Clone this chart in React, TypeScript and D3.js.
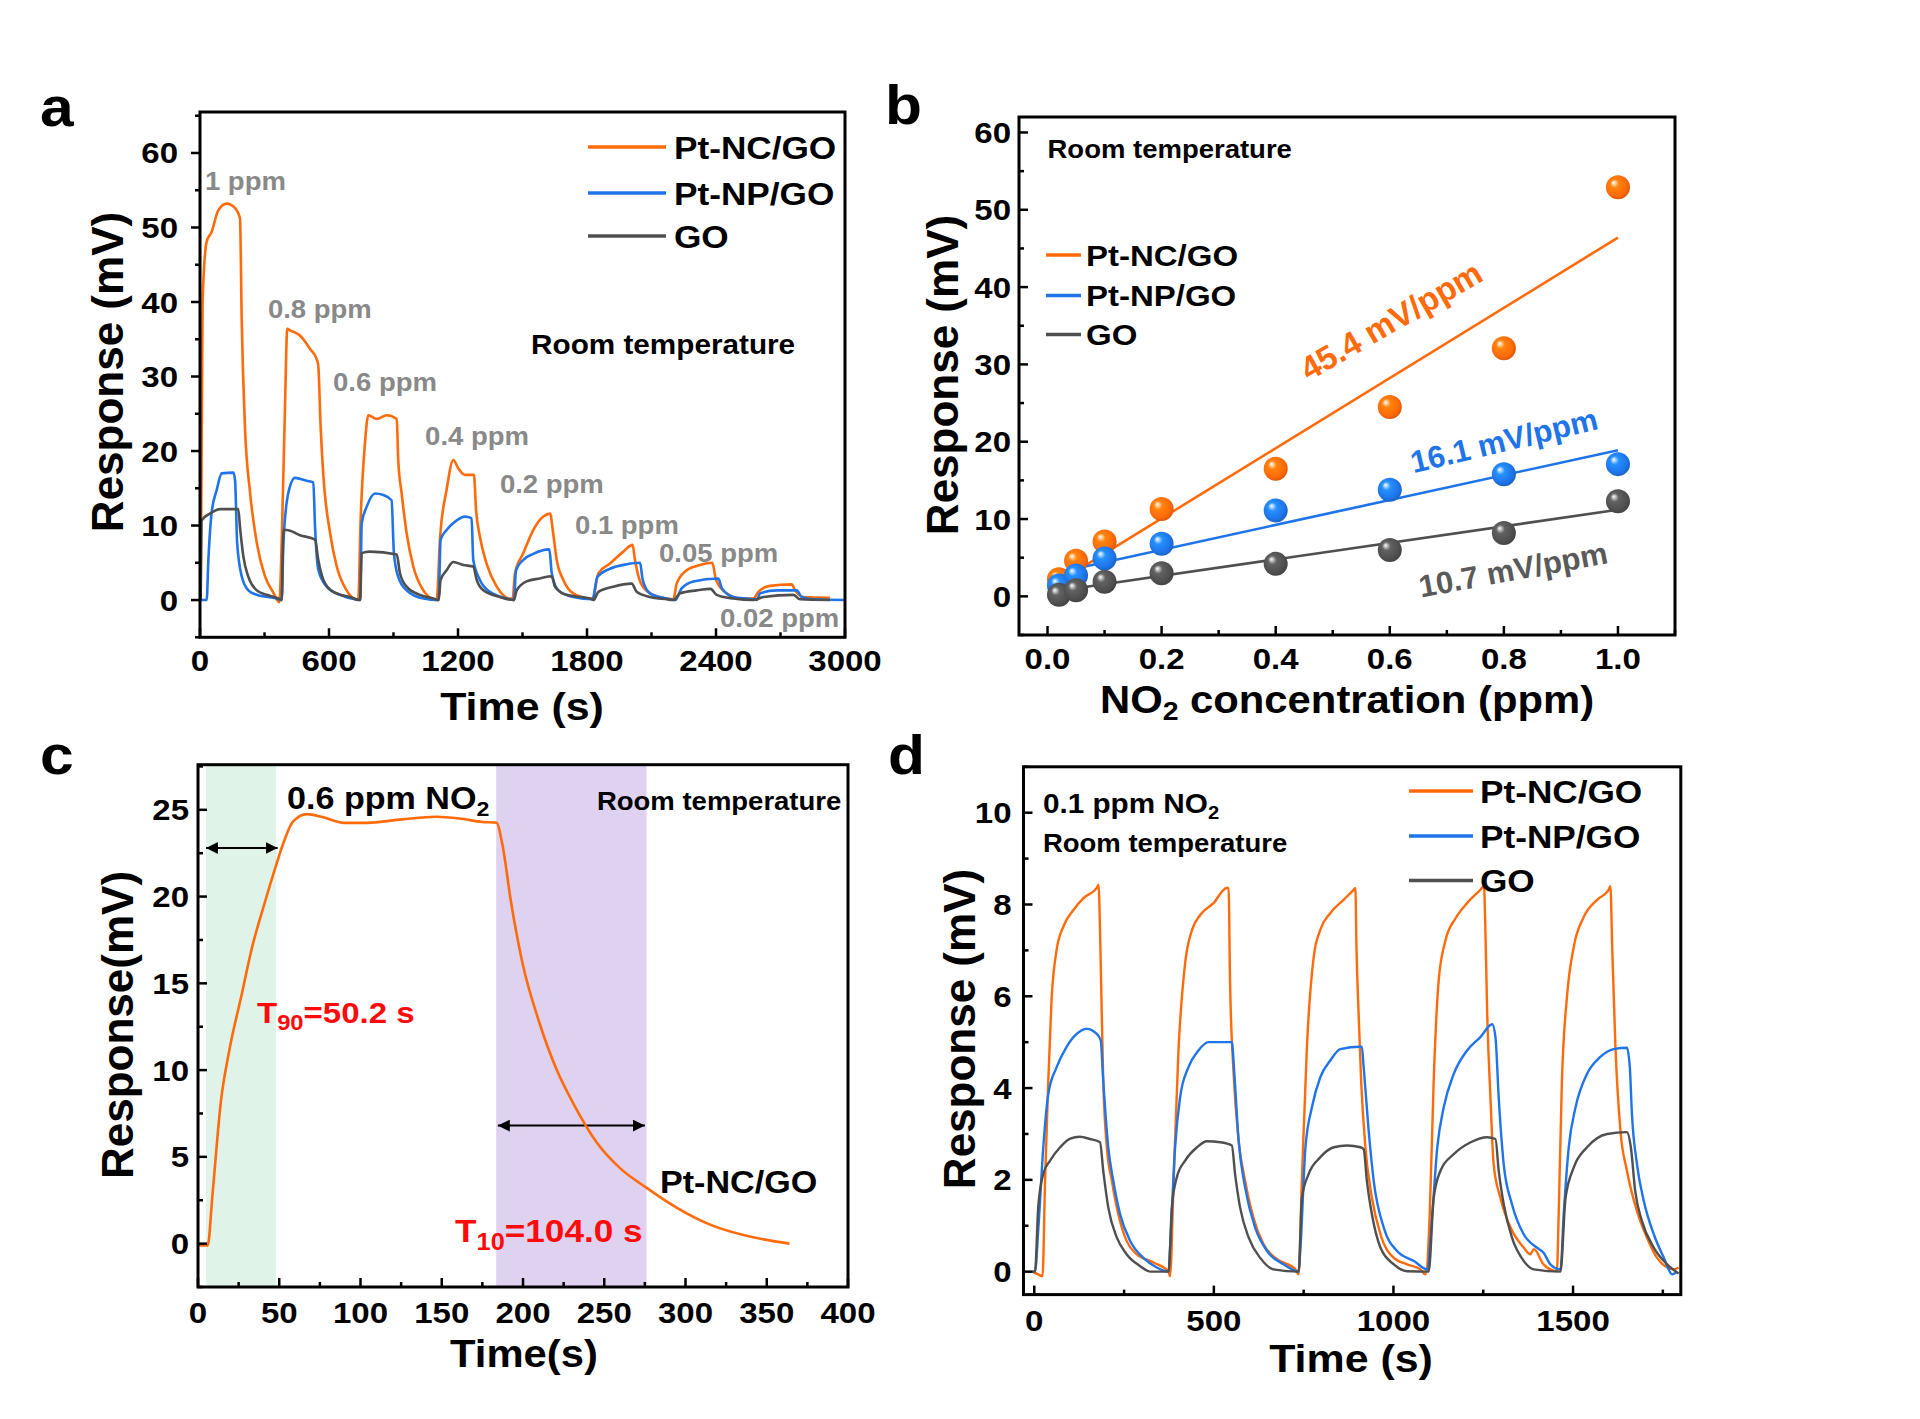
import React from "react";
import * as d3 from "d3";

type Pt = [number, number];

const FONT = "'Liberation Sans', Arial, Helvetica, sans-serif";
const SX = 1.1; // the figure's lettering is a little wide
const ORANGE = "#ff6a0a";
const BLUE = "#1e74e8";
const GREY = "#4f4f4f";
const LABEL_GREY = "#898989";
const RED = "#ff0a0a";

// ---------- panel a : transients from 1 ppm down to 0.02 ppm
const aTimeTicks = [0, 600, 1200, 1800, 2400, 3000];
const aRespTicks = [0, 10, 20, 30, 40, 50, 60];
const aConcLabels = ["1 ppm", "0.8 ppm", "0.6 ppm", "0.4 ppm", "0.2 ppm", "0.1 ppm", "0.05 ppm", "0.02 ppm"];
const aNC: Pt[] = [
  [3, 0], [12, 40], [31, 48.1], [54, 49.4], [85, 52.3], [124, 53.2], [163, 52.6], [186, 51.2], [194, 37.6], [209, 23.3], [233, 14.4], [264, 7.7], [302, 3.2], [341, 1.0], [369, -0.3],
  [380, 7.7], [395, 25.6], [406, 36.4], [419, 36.2], [465, 35.5], [512, 33.7], [543, 32.3], [550, 31.5], [561, 23.3], [574, 16.6], [605, 9.0], [636, 4.5], [682, 1.3], [721, 0.1], [736, 0],
  [747, 10.7], [767, 21.0], [783, 24.8], [822, 24.3], [868, 24.8], [915, 24.3], [922, 18.8], [938, 14.3], [961, 9.0], [992, 4.5], [1039, 1.3], [1085, 0.1], [1101, 0],
  [1116, 8.1], [1147, 14.8], [1178, 18.8], [1201, 17.7], [1232, 16.8], [1274, 16.8], [1284, 12.1], [1302, 8.5], [1333, 4.9], [1380, 1.8], [1442, 0.2], [1454, 0.2],
  [1465, 3.6], [1504, 6.3], [1550, 9.4], [1597, 11.2], [1628, 11.6], [1643, 8.9], [1659, 5.4], [1690, 2.7], [1736, 0.9], [1814, 0.2], [1826, 0.2],
  [1853, 3.6], [1907, 4.9], [1969, 6.5], [2012, 7.4], [2023, 5.4], [2047, 2.5], [2093, 0.9], [2171, 0.2], [2202, 0.1],
  [2217, 2.2], [2264, 4.0], [2326, 4.7], [2383, 5.0], [2400, 2.7], [2450, 0.9], [2512, 0.2], [2574, 0.2],
  [2597, 1.1], [2651, 1.9], [2752, 2.1], [2768, 1.3], [2806, 0.4], [2930, 0.3],
];
const aNP: Pt[] = [
  [3, 0], [31, 0], [39, 5.4], [54, 11.7], [78, 14.8], [101, 17.0], [155, 17.1], [163, 16.1], [173, 7.6], [194, 3.2], [225, 1.3], [264, 0.7], [357, 0.2], [380, 0],
  [388, 7.7], [411, 14.4], [442, 16.4], [496, 16.0], [527, 15.8], [535, 9.9], [550, 4.1], [589, 1.8], [651, 0.7], [721, 0.1], [745, 0],
  [752, 10.3], [775, 12.5], [814, 14.3], [853, 14.1], [891, 13.4], [902, 6.3], [922, 3.1], [961, 1.3], [1039, 0.2], [1110, 0],
  [1119, 8.1], [1147, 9.4], [1194, 10.7], [1232, 11.2], [1263, 11.0], [1271, 5.4], [1302, 2.7], [1349, 1.1], [1442, 0.1], [1460, 0],
  [1470, 4.0], [1504, 5.4], [1550, 6.2], [1625, 6.8], [1636, 3.6], [1667, 1.3], [1736, 0.4], [1826, 0.1],
  [1848, 3.1], [1907, 4.2], [1985, 4.8], [2047, 5.0], [2059, 2.7], [2093, 0.9], [2171, 0.2], [2210, 0],
  [2241, 1.6], [2295, 2.5], [2411, 2.9], [2427, 1.6], [2481, 0.4], [2574, 0.1], [2590, 0],
  [2605, 0.9], [2682, 1.3], [2775, 1.3], [2799, 0.4], [2850, 0.1], [3000, 0],
];
const aGO: Pt[] = [
  [3, 0], [8, 10.7], [46, 11.6], [93, 12.2], [178, 12.2], [186, 9.8], [202, 5.8], [225, 3.1], [264, 1.3], [310, 0.7], [364, 0.2], [380, 0],
  [388, 9.4], [403, 9.4], [465, 8.7], [535, 8.1], [550, 5.4], [574, 2.7], [620, 1.1], [698, 0.4], [745, 0],
  [752, 6.3], [791, 6.5], [915, 6.1], [930, 3.6], [961, 1.8], [1023, 0.7], [1085, 0.2], [1110, 0],
  [1119, 2.7], [1147, 4.0], [1178, 5.1], [1225, 4.7], [1271, 4.5], [1287, 2.7], [1318, 1.3], [1395, 0.4], [1460, 0],
  [1473, 1.3], [1519, 2.5], [1581, 2.9], [1636, 3.2], [1651, 1.8], [1705, 0.7], [1814, 0.2], [1830, 0],
  [1853, 1.1], [1922, 1.8], [2008, 2.2], [2031, 1.1], [2093, 0.4], [2171, 0.1], [2202, 0],
  [2233, 0.9], [2310, 1.3], [2375, 1.5], [2403, 0.7], [2481, 0.2], [2574, 0],
  [2620, 0.4], [2760, 0.7], [2791, 0.1], [2930, 0],
];

// ---------- panel b : response vs concentration
const bConc = [0.02, 0.05, 0.1, 0.2, 0.4, 0.6, 0.8, 1.0];
const bNC = [2.2, 4.6, 7.1, 11.3, 16.5, 24.5, 32.1, 52.9];
const bNP = [1.4, 2.7, 4.9, 6.8, 11.1, 13.8, 15.8, 17.1];
const bGO = [0.2, 0.8, 1.9, 3.0, 4.2, 6.0, 8.2, 12.3];
const bSlopes = [45.4, 16.1, 10.7];
const bIntercepts = [1.0, 2.8, 0.5];
const bFitStart = [0.05, 0.02, 0.02];
const bConcTicks = [0, 0.2, 0.4, 0.6, 0.8, 1.0];
const bRespTicks = [0, 10, 20, 30, 40, 50, 60];

// ---------- panel c : single response at 0.6 ppm
const cNC: Pt[] = [
  [0, -0.1], [6, -0.1], [8.8, 2.7], [14.1, 8.2], [19.4, 11.2], [26.5, 14.2], [33.6, 17.2], [40.6, 19.5], [47.7, 21.7], [53, 23.2], [58.3, 24.3],
  [67.1, 24.75], [76, 24.6], [90, 24.25], [104, 24.25], [125.4, 24.45], [146.6, 24.6], [160.8, 24.5], [175, 24.3], [183.7, 24.25],
  [187.3, 23], [192.6, 19.7], [199.6, 16.2], [210.2, 12.7], [220.8, 10.0], [231.4, 8.0], [245.6, 5.8], [259.7, 4.35], [276.3, 3.2],
  [295, 2.05], [316.3, 1.05], [337.5, 0.45], [364, 0],
];
const cRiseBand = [5, 48];
const cRecoveryBand = [183.5, 276];
const cTimeTicks = [0, 50, 100, 150, 200, 250, 300, 350, 400];
const cRespTicks = [0, 5, 10, 15, 20, 25];

// ---------- panel d : five cycles at 0.1 ppm
const dNC: Pt[] = [
  [-5, 0], [11, -0.06], [23, -0.1], [30, 1.98], [39, 4.16], [48, 5.91], [62, 7.0], [81, 7.52], [109, 7.88], [137, 8.14], [174, 8.36], [179, 8.43], [181, 8.1], [185, 6.72], [192, 4.16], [202, 2.71], [216, 1.98], [234, 1.25], [257, 0.67], [285, 0.38], [332, 0.2], [374, 0], [378, -0.1],
  [388, 1.98], [401, 4.74], [420, 6.72], [439, 7.44], [462, 7.77], [499, 8.03], [536, 8.36], [541, 8.36], [545, 6.35], [555, 4.31], [569, 2.85], [587, 1.98], [610, 1.18], [638, 0.6], [676, 0.27], [727, 0.05], [736, -0.06],
  [745, 1.98], [759, 4.89], [778, 6.86], [796, 7.44], [824, 7.81], [861, 8.1], [889, 8.32], [894, 8.36], [897, 7.08], [903, 5.62], [910, 4.16], [922, 2.7], [940, 1.61], [964, 0.81], [1001, 0.3], [1038, 0.16], [1075, 0.05], [1089, -0.06],
  [1101, 1.25], [1112, 4.16], [1126, 6.35], [1145, 7.22], [1173, 7.7], [1205, 8.03], [1242, 8.32], [1252, 8.4], [1256, 7.44], [1261, 5.62], [1270, 3.8], [1279, 2.34], [1298, 1.6], [1326, 0.96], [1363, 0.52], [1381, 0.38], [1391, 0.49], [1418, 0.16], [1455, 0.01],
  [1460, 1.25], [1469, 4.16], [1483, 5.98], [1502, 7.08], [1530, 7.73], [1567, 8.1], [1599, 8.32], [1604, 8.4], [1609, 7.08], [1618, 4.9], [1632, 3.07], [1650, 2.2], [1678, 1.32], [1706, 0.74], [1734, 0.3], [1780, 0.05], [1794, 0.09],
];
const dNP: Pt[] = [
  [-5, 0], [2, 0], [11, 0.9], [25, 2.7], [39, 3.87], [62, 4.45], [90, 4.9], [118, 5.18], [146, 5.29], [174, 5.18], [185, 5.04], [192, 4.16], [206, 2.71], [220, 1.98], [239, 1.25], [267, 0.67], [304, 0.3], [341, 0.09], [374, 0],
  [378, 0.51], [392, 2.71], [406, 3.8], [429, 4.45], [457, 4.82], [485, 5.0], [550, 5.0], [557, 4.31], [569, 2.85], [587, 1.83], [615, 0.96], [648, 0.45], [694, 0.16], [736, 0],
  [741, 0.51], [755, 2.71], [773, 3.58], [796, 4.23], [824, 4.6], [852, 4.85], [908, 4.9], [912, 4.9], [917, 4.46], [931, 3.07], [945, 1.98], [973, 0.96], [1010, 0.45], [1057, 0.23], [1094, 0.05],
  [1108, 1.25], [1122, 2.71], [1140, 3.58], [1168, 4.31], [1205, 4.82], [1242, 5.11], [1275, 5.39], [1284, 5.11], [1293, 3.8], [1307, 2.34], [1330, 1.47], [1363, 0.81], [1400, 0.52], [1418, 0.41], [1437, 0.16], [1465, 0.05],
  [1474, 1.25], [1488, 2.71], [1507, 3.58], [1539, 4.31], [1576, 4.68], [1613, 4.85], [1650, 4.88], [1658, 4.46], [1664, 3.43], [1678, 2.34], [1697, 1.54], [1725, 0.81], [1753, 0.3], [1776, -0.06], [1790, 0],
];
const dGO: Pt[] = [
  [-5, 0], [2, 0], [11, 1.4], [25, 2.13], [44, 2.42], [72, 2.71], [100, 2.9], [127, 2.94], [155, 2.89], [183, 2.82], [192, 2.2], [206, 1.4], [230, 0.74], [257, 0.38], [295, 0.12], [323, 0], [374, 0],
  [383, 1.4], [397, 2.06], [420, 2.42], [453, 2.71], [481, 2.84], [518, 2.82], [550, 2.75], [559, 2.13], [573, 1.4], [597, 0.74], [629, 0.3], [666, 0.05], [736, 0],
  [745, 1.6], [764, 2.13], [796, 2.49], [834, 2.71], [871, 2.75], [908, 2.71], [917, 2.67], [926, 1.98], [940, 1.25], [964, 0.52], [1001, 0.16], [1038, 0.01], [1098, 0],
  [1112, 1.6], [1131, 2.2], [1168, 2.56], [1215, 2.82], [1261, 2.93], [1284, 2.89], [1293, 2.2], [1307, 1.47], [1330, 0.74], [1363, 0.23], [1391, 0.05], [1465, 0],
  [1479, 1.6], [1502, 2.27], [1539, 2.71], [1595, 3.0], [1650, 3.04], [1661, 2.71], [1673, 1.76], [1692, 1.1], [1725, 0.52], [1762, 0.16], [1794, -0.04],
];
const dTimeTicks = [0, 500, 1000, 1500];
const dRespTicks = [0, 2, 4, 6, 8, 10];

const seriesNames = ["Pt-NC/GO", "Pt-NP/GO", "GO"];
const seriesColors = [ORANGE, BLUE, GREY];

type Lin = d3.ScaleLinear<number, number>;

function Txt({ x, y, size, anchor = "start", fill = "#000", children }: any) {
  return (
    <text transform={`translate(${x},${y}) scale(${SX},1)`} fontSize={size} fontWeight="bold"
      fontFamily={FONT} textAnchor={anchor} fill={fill}>{children}</text>
  );
}

function RotTxt({ x, y, size, angle, fill = "#000", children }: any) {
  return (
    <text transform={`translate(${x},${y}) rotate(${angle})`} fontSize={size} fontWeight="bold"
      fontFamily={FONT} textAnchor="middle" fill={fill}>{children}</text>
  );
}

function Axes({ x, y, xMajor, xMinor, yMajor, yMinor, xFmt, yOut = false, xLabelDy, yLabelGap }: {
  x: Lin; y: Lin; xMajor: number[]; xMinor: number[]; yMajor: number[]; yMinor: number[];
  xFmt: (v: number) => string; yOut?: boolean; xLabelDy: number; yLabelGap: number;
}) {
  const [l, r] = x.range();
  const [b, t] = y.range();
  const yDir = yOut ? -1 : 1;
  return (
    <g>
      {xMinor.map((v) => <line key={"xm" + v} x1={x(v)} x2={x(v)} y1={b} y2={b - 5} stroke="#000" strokeWidth={2.5} />)}
      {xMajor.map((v) => <line key={"xM" + v} x1={x(v)} x2={x(v)} y1={b} y2={b - 9} stroke="#000" strokeWidth={2.5} />)}
      {yMinor.map((v) => <line key={"ym" + v} x1={l} x2={l + yDir * 5} y1={y(v)} y2={y(v)} stroke="#000" strokeWidth={2.5} />)}
      {yMajor.map((v) => <line key={"yM" + v} x1={l} x2={l + yDir * 9} y1={y(v)} y2={y(v)} stroke="#000" strokeWidth={2.5} />)}
      <rect x={l} y={t} width={r - l} height={b - t} fill="none" stroke="#000" strokeWidth={3} />
      {xMajor.map((v) => <Txt key={"xl" + v} x={x(v)} y={b + xLabelDy} size={30} anchor="middle">{xFmt(v)}</Txt>)}
      {yMajor.map((v) => <Txt key={"yl" + v} x={l - yLabelGap} y={y(v) + 10.5} size={30} anchor="end">{String(v)}</Txt>)}
    </g>
  );
}

function minors(s: Lin, step: number, skip: number[]) {
  const [a, b] = s.domain();
  return d3.range(Math.ceil(a / step) * step, b + 1e-9, step)
    .map((v) => +v.toFixed(4))
    .filter((v) => !skip.some((m) => Math.abs(m - v) < 1e-6));
}

function Legend({ x1, x2, tx, ys, size }: { x1: number; x2: number; tx: number; ys: number[]; size: number }) {
  return (
    <g>
      {seriesNames.map((n, i) => (
        <g key={n}>
          <line x1={x1} x2={x2} y1={ys[i]} y2={ys[i]} stroke={seriesColors[i]} strokeWidth={3.5} />
          <Txt x={tx} y={ys[i] + size * 0.36} size={size}>{n}</Txt>
        </g>
      ))}
    </g>
  );
}

function PanelA() {
  const x = d3.scaleLinear().domain([0, 3000]).range([200, 845]);
  const y = d3.scaleLinear().domain([-5, 65.5]).range([637.3, 112]);
  const line = d3.line<Pt>().x((d) => x(d[0])).y((d) => y(d[1])).curve(d3.curveMonotoneX);
  const labelAt: Pt[] = [[23, 55], [316, 37.9], [619, 28.1], [1047, 20.8], [1395, 14.4], [1744, 8.9], [2135, 5.1], [2419, -3.6]];
  return (
    <g>
      {[aNC, aNP, aGO].map((s, i) => (
        <path key={i} d={line(s) || ""} fill="none" stroke={seriesColors[i]} strokeWidth={2.6} strokeLinejoin="round" />
      ))}
      {aConcLabels.map((t, i) => (
        <Txt key={t} x={x(labelAt[i][0])} y={y(labelAt[i][1])} size={25} fill={LABEL_GREY}>{t}</Txt>
      ))}
      <Txt x={x(1540)} y={y(33)} size={27}>Room temperature</Txt>
      <Legend x1={588} x2={666} tx={674} ys={[147, 193, 236]} size={32} />
      <Axes x={x} y={y} xMajor={aTimeTicks} xMinor={minors(x, 300, aTimeTicks)} yMajor={aRespTicks}
        yMinor={minors(y, 5, aRespTicks)} xFmt={(v) => String(v)} yOut xLabelDy={34} yLabelGap={22} />
      <Txt x={522} y={720} size={39} anchor="middle">Time (s)</Txt>
      <RotTxt x={123} y={372} size={44} angle={-90}>Response (mV)</RotTxt>
      <Txt x={40} y={126} size={55}>a</Txt>
    </g>
  );
}

function PanelB() {
  const x = d3.scaleLinear().domain([-0.05, 1.1]).range([1019, 1675]);
  const y = d3.scaleLinear().domain([-5, 62]).range([635, 117]);
  const sets = [bNC, bNP, bGO];
  const fit = (i: number) => {
    const pts: Pt[] = [bFitStart[i], 1.0].map((c) => [c, bIntercepts[i] + bSlopes[i] * c]);
    return d3.line<Pt>().x((d) => x(d[0])).y((d) => y(d[1]))(pts) || "";
  };
  const slopeLabels: { at: Pt; angle: number; size: number }[] = [
    { at: [0.602, 35.7], angle: -30, size: 33 },
    { at: [0.8, 20.2], angle: -13.5, size: 31 },
    { at: [0.816, 3.5], angle: -10.4, size: 31 },
  ];
  return (
    <g>
      <defs>
        {seriesColors.map((c, i) => (
          <radialGradient key={i} id={"ball" + i} cx="0.45" cy="0.45" r="0.6" fx="0.32" fy="0.3">
            <stop offset="0" stopColor="#ffffff" />
            <stop offset="0.3" stopColor={d3.color(c)!.brighter(0.6).formatHex()} />
            <stop offset="0.75" stopColor={c} />
            <stop offset="1" stopColor={d3.color(c)!.darker(0.6).formatHex()} />
          </radialGradient>
        ))}
      </defs>
      {sets.map((_, i) => <path key={"f" + i} d={fit(i)} stroke={seriesColors[i]} strokeWidth={2.6} fill="none" />)}
      {sets.map((s, i) => s.map((v, j) => (
        <circle key={i + "-" + j} cx={x(bConc[j])} cy={y(v)} r={12} fill={`url(#ball${i})`} />
      )))}
      {bSlopes.map((s, i) => (
        <RotTxt key={s} x={x(slopeLabels[i].at[0])} y={y(slopeLabels[i].at[1])} size={slopeLabels[i].size}
          angle={slopeLabels[i].angle} fill={i === 2 ? "#5a5a5a" : seriesColors[i]}>
          <tspan dy="0.36em">{s.toFixed(1)} mV/ppm</tspan>
        </RotTxt>
      ))}
      <Txt x={x(0)} y={y(56.7)} size={25}>Room temperature</Txt>
      <Legend x1={1046} x2={1081} tx={1086} ys={[255, 295.5, 334.6]} size={30} />
      <Axes x={x} y={y} xMajor={bConcTicks} xMinor={minors(x, 0.1, bConcTicks)} yMajor={bRespTicks}
        yMinor={minors(y, 5, bRespTicks)} xFmt={(v) => v.toFixed(1)} xLabelDy={34} yLabelGap={8} />
      <Txt x={1347} y={713} size={38} anchor="middle">
        NO<tspan fontSize="0.68em" dy="7">2</tspan><tspan dy="-7"> concentration (ppm)</tspan>
      </Txt>
      <RotTxt x={958} y={375} size={44} angle={-90}>Response (mV)</RotTxt>
      <Txt x={885} y={124} size={55}>b</Txt>
    </g>
  );
}

function PanelC() {
  const x = d3.scaleLinear().domain([0, 400]).range([198, 848]);
  const y = d3.scaleLinear().domain([-2.5, 27.6]).range([1287, 764.7]);
  const line = d3.line<Pt>().x((d) => x(d[0])).y((d) => y(d[1])).curve(d3.curveMonotoneX);
  const [b, t] = y.range();
  return (
    <g>
      <defs>
        <marker id="arrC" viewBox="0 0 10 10" refX="10" refY="5" markerWidth="6" markerHeight="6" orient="auto-start-reverse">
          <path d="M0,0 L10,5 L0,10 z" fill="#000" />
        </marker>
      </defs>
      <rect x={x(cRiseBand[0])} y={t} width={x(cRiseBand[1]) - x(cRiseBand[0])} height={b - t} fill="#dff3e8" />
      <rect x={x(cRecoveryBand[0])} y={t} width={x(cRecoveryBand[1]) - x(cRecoveryBand[0])} height={b - t} fill="#dfd1f0" />
      <line x1={x(cRiseBand[0])} x2={x(cRiseBand[1] + 1)} y1={y(22.8)} y2={y(22.8)} stroke="#000" strokeWidth={2}
        markerStart="url(#arrC)" markerEnd="url(#arrC)" />
      <line x1={x(cRecoveryBand[0] + 1)} x2={x(cRecoveryBand[1] - 1)} y1={y(6.8)} y2={y(6.8)} stroke="#000" strokeWidth={2}
        markerStart="url(#arrC)" markerEnd="url(#arrC)" />
      <path d={line(cNC) || ""} fill="none" stroke={ORANGE} strokeWidth={2.6} strokeLinejoin="round" />
      <Txt x={x(54.8)} y={y(25.05)} size={31}>
        0.6 ppm NO<tspan fontSize="0.68em" dy="7">2</tspan>
      </Txt>
      <Txt x={x(245.5)} y={y(25)} size={25}>Room temperature</Txt>
      <Txt x={x(36.3)} y={y(12.7)} size={30} fill={RED}>
        T<tspan fontSize="0.72em" dy="7">90</tspan><tspan dy="-7">=50.2 s</tspan>
      </Txt>
      <Txt x={x(158.2)} y={y(0.1)} size={32} fill={RED}>
        T<tspan fontSize="0.72em" dy="8">10</tspan><tspan dy="-8">=104.0 s</tspan>
      </Txt>
      <Txt x={x(284.3)} y={y(2.9)} size={31}>Pt-NC/GO</Txt>
      <Axes x={x} y={y} xMajor={cTimeTicks} xMinor={minors(x, 25, cTimeTicks)} yMajor={cRespTicks}
        yMinor={minors(y, 2.5, cRespTicks)} xFmt={(v) => String(v)} xLabelDy={36} yLabelGap={9} />
      <Txt x={524} y={1367} size={38} anchor="middle">Time(s)</Txt>
      <RotTxt x={133} y={1025} size={44} angle={-90}>Response(mV)</RotTxt>
      <Txt x={40} y={774} size={55}>c</Txt>
    </g>
  );
}

function PanelD() {
  const x = d3.scaleLinear().domain([-30, 1800]).range([1023.5, 1680.8]);
  const y = d3.scaleLinear().domain([-0.5, 11]).range([1294.6, 766.8]);
  const line = d3.line<Pt>().x((d) => x(d[0])).y((d) => y(d[1])).curve(d3.curveMonotoneX);
  return (
    <g>
      {[dNC, dNP, dGO].map((s, i) => (
        <path key={i} d={line(s) || ""} fill="none" stroke={seriesColors[i]} strokeWidth={2.4} strokeLinejoin="round" />
      ))}
      <Txt x={x(24)} y={y(10)} size={27}>
        0.1 ppm NO<tspan fontSize="0.68em" dy="6">2</tspan>
      </Txt>
      <Txt x={x(24)} y={y(9.14)} size={25}>Room temperature</Txt>
      <Legend x1={1409} x2={1473} tx={1480} ys={[791, 836, 880.5]} size={32} />
      <Axes x={x} y={y} xMajor={dTimeTicks} xMinor={minors(x, 250, dTimeTicks)} yMajor={dRespTicks}
        yMinor={minors(y, 1, dRespTicks)} xFmt={(v) => String(v)} xLabelDy={36.5} yLabelGap={12} />
      <Txt x={1351} y={1372} size={39} anchor="middle">Time (s)</Txt>
      <RotTxt x={975} y={1029} size={44} angle={-90}>Response (mV)</RotTxt>
      <Txt x={888} y={774} size={55}>d</Txt>
    </g>
  );
}

export default function App() {
  return (
    <svg width={1920} height={1419} style={{ position: "absolute", left: 0, top: 0, background: "#fff" }}>
      <rect width={1920} height={1419} fill="#fff" />
      <PanelA />
      <PanelB />
      <PanelC />
      <PanelD />
    </svg>
  );
}
